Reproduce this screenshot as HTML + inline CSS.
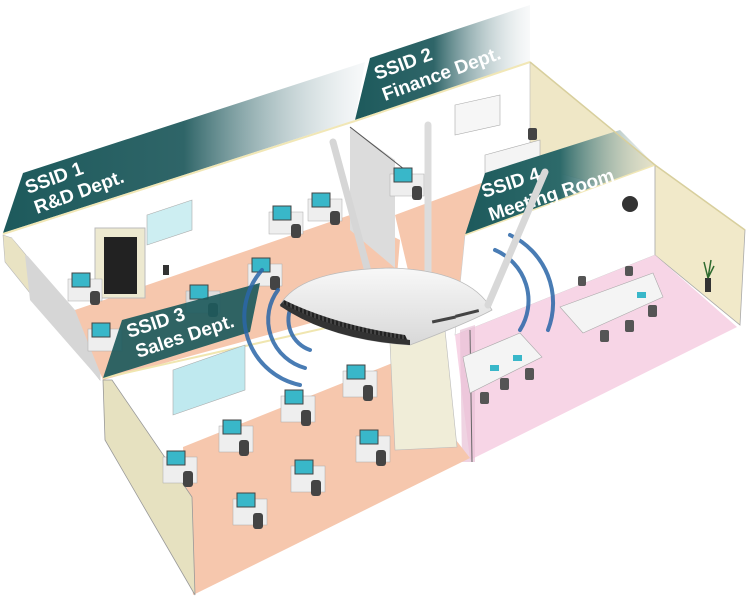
<!DOCTYPE html>
<html><head><meta charset="utf-8"><style>
html,body{margin:0;padding:0;background:#fff;}
svg{display:block;}
text{font-family:"Liberation Sans",sans-serif;font-weight:bold;fill:#fff;}
</style></head><body>
<svg width="750" height="600" viewBox="0 0 750 600" xmlns="http://www.w3.org/2000/svg">
<defs>
<linearGradient id="b1" x1="0" y1="0" x2="1" y2="0">
<stop offset="0" stop-color="#1d5a5c"/><stop offset="0.5" stop-color="#2f6568"/><stop offset="1" stop-color="#e6ebee" stop-opacity="0.3"/></linearGradient>
<linearGradient id="b2" x1="0" y1="0" x2="1" y2="0">
<stop offset="0" stop-color="#1d5a5c"/><stop offset="0.45" stop-color="#2f6568"/><stop offset="1" stop-color="#dde3e6" stop-opacity="0.2"/></linearGradient>
<linearGradient id="b3" x1="0" y1="0" x2="1" y2="0">
<stop offset="0" stop-color="#1d5a5c"/><stop offset="0.5" stop-color="#2d6a6a"/><stop offset="1" stop-color="#cfd7d0" stop-opacity="0.3"/></linearGradient>
<linearGradient id="rt" x1="0" y1="0" x2="0" y2="1">
<stop offset="0" stop-color="#f8f8f8"/><stop offset="1" stop-color="#d8d8d8"/></linearGradient>
<pattern id="gr" width="4" height="4" patternUnits="userSpaceOnUse"><rect width="4" height="4" fill="#444"/><rect width="2" height="4" fill="#222"/></pattern>
</defs>

<polygon points="3,235 12,238 100,345 100,380 5,262" fill="#e9e3c3" stroke="#bbb" stroke-width="0.6"/>
<polygon points="25,255 45,262 100,340 100,380 30,300" fill="#d6d6d6"/>
<polygon points="12,238 355,122 350,215 75,310" fill="#fff"/>
<polygon points="75,310 350,215 400,240 395,300 103,380" fill="#f6c7ad"/>
<polygon points="355,122 530,62 530,165 360,215" fill="#fff"/>
<polygon points="395,215 530,165 540,190 470,235 470,300 415,300" fill="#f6c7ad"/>
<polygon points="350,127 395,160 395,268 350,230" fill="#dcdcdc"/>
<line x1="350" y1="127" x2="418" y2="180" stroke="#555" stroke-width="1"/>
<polygon points="530,62 655,165 655,200 530,165" fill="#efe7c6" stroke="#bbb" stroke-width="0.6"/>
<polygon points="465,235 655,165 655,255 455,335" fill="#fff" stroke="#ccc" stroke-width="0.6"/>
<polygon points="655,165 745,230 740,325 655,255" fill="#f1e9c9" stroke="#aaa" stroke-width="0.8"/>
<polygon points="455,335 655,255 737,327 470,460" fill="#f7d5e6"/>
<polygon points="460,330 475,325 475,462 462,462" fill="#e8c0d6" opacity="0.7"/>
<line x1="470" y1="330" x2="472" y2="462" stroke="#666" stroke-width="1"/>
<polygon points="560,307 653,273 663,297 583,333" fill="#f4f4f4" stroke="#aaa" stroke-width="0.6"/>
<polygon points="463,357 520,333 542,357 470,393" fill="#f4f4f4" stroke="#aaa" stroke-width="0.6"/>
<g fill="#555"><rect x="578" y="276" width="8" height="10" rx="2"/><rect x="625" y="266" width="8" height="10" rx="2"/><rect x="600" y="330" width="9" height="12" rx="2"/><rect x="625" y="320" width="9" height="12" rx="2"/><rect x="648" y="305" width="9" height="12" rx="2"/><rect x="480" y="392" width="9" height="12" rx="2"/><rect x="500" y="378" width="9" height="12" rx="2"/><rect x="525" y="368" width="9" height="12" rx="2"/></g>
<g fill="#39b7c9"><rect x="637" y="292" width="9" height="6"/><rect x="490" y="365" width="9" height="6"/><rect x="513" y="355" width="9" height="6"/></g>
<rect x="705" y="278" width="6" height="14" fill="#333"/><path d="M708 278 l-4 -16 M708 278 l3 -18 M708 278 l6 -12" stroke="#2f6b2f" stroke-width="1.5"/>
<circle cx="630" cy="204" r="8" fill="#333"/>

<polygon points="112,380 450,300 395,362 183,447" fill="#fff"/>
<polygon points="183,447 395,362 470,458 193,595" fill="#f6c7ad"/>
<polygon points="103,380 112,380 192,497 195,595 105,440" fill="#e6e1c0" stroke="#999" stroke-width="0.8"/>
<polygon points="390,343 445,330 457,447 395,450" fill="#f0edd8" stroke="#bbb" stroke-width="0.6"/>
<line x1="103" y1="378" x2="450" y2="300" stroke="#f0e6b0" stroke-width="2"/>
<polygon points="173,370 245,345 245,390 173,415" fill="#bfe9ef" stroke="#aaa" stroke-width="0.6"/>
<polygon points="147,215 192,200 192,230 147,245" fill="#cdeef2" stroke="#aaa" stroke-width="0.6"/>
<polygon points="455,105 500,95 500,125 455,135" fill="#f6f6f6" stroke="#aaa" stroke-width="0.6"/>
<rect x="95" y="228" width="50" height="70" fill="#ede9d0" stroke="#bbb"/>
<rect x="104" y="237" width="33" height="57" fill="#222"/>
<rect x="163" y="265" width="6" height="10" fill="#333"/>
<g>
<g transform="translate(177,463)"><rect x="-14" y="-6" width="34" height="26" fill="#eee" stroke="#aaa" stroke-width="0.5"/><rect x="-10" y="-12" width="18" height="14" fill="#39b7c9" stroke="#444"/><rect x="6" y="8" width="10" height="16" rx="3" fill="#444"/></g>
<g transform="translate(233,432)"><rect x="-14" y="-6" width="34" height="26" fill="#eee" stroke="#aaa" stroke-width="0.5"/><rect x="-10" y="-12" width="18" height="14" fill="#39b7c9" stroke="#444"/><rect x="6" y="8" width="10" height="16" rx="3" fill="#444"/></g>
<g transform="translate(295,402)"><rect x="-14" y="-6" width="34" height="26" fill="#eee" stroke="#aaa" stroke-width="0.5"/><rect x="-10" y="-12" width="18" height="14" fill="#39b7c9" stroke="#444"/><rect x="6" y="8" width="10" height="16" rx="3" fill="#444"/></g>
<g transform="translate(357,377)"><rect x="-14" y="-6" width="34" height="26" fill="#eee" stroke="#aaa" stroke-width="0.5"/><rect x="-10" y="-12" width="18" height="14" fill="#39b7c9" stroke="#444"/><rect x="6" y="8" width="10" height="16" rx="3" fill="#444"/></g>
<g transform="translate(247,505)"><rect x="-14" y="-6" width="34" height="26" fill="#eee" stroke="#aaa" stroke-width="0.5"/><rect x="-10" y="-12" width="18" height="14" fill="#39b7c9" stroke="#444"/><rect x="6" y="8" width="10" height="16" rx="3" fill="#444"/></g>
<g transform="translate(305,472)"><rect x="-14" y="-6" width="34" height="26" fill="#eee" stroke="#aaa" stroke-width="0.5"/><rect x="-10" y="-12" width="18" height="14" fill="#39b7c9" stroke="#444"/><rect x="6" y="8" width="10" height="16" rx="3" fill="#444"/></g>
<g transform="translate(370,442)"><rect x="-14" y="-6" width="34" height="26" fill="#eee" stroke="#aaa" stroke-width="0.5"/><rect x="-10" y="-12" width="18" height="14" fill="#39b7c9" stroke="#444"/><rect x="6" y="8" width="10" height="16" rx="3" fill="#444"/></g>
<g transform="translate(82,285)"><rect x="-14" y="-6" width="34" height="22" fill="#eee" stroke="#aaa" stroke-width="0.5"/><rect x="-10" y="-12" width="18" height="14" fill="#39b7c9" stroke="#444"/><rect x="8" y="6" width="10" height="14" rx="3" fill="#444"/></g>
<g transform="translate(102,335)"><rect x="-14" y="-6" width="34" height="22" fill="#eee" stroke="#aaa" stroke-width="0.5"/><rect x="-10" y="-12" width="18" height="14" fill="#39b7c9" stroke="#444"/></g>
<g transform="translate(200,297)"><rect x="-14" y="-6" width="34" height="22" fill="#ddd" stroke="#aaa" stroke-width="0.5"/><rect x="-10" y="-12" width="18" height="14" fill="#39b7c9" stroke="#444"/><rect x="8" y="6" width="10" height="14" rx="3" fill="#444"/></g>
<g transform="translate(262,270)"><rect x="-14" y="-6" width="34" height="22" fill="#eee" stroke="#aaa" stroke-width="0.5"/><rect x="-10" y="-12" width="18" height="14" fill="#39b7c9" stroke="#444"/><rect x="8" y="6" width="10" height="14" rx="3" fill="#444"/></g>
<g transform="translate(283,218)"><rect x="-14" y="-6" width="34" height="22" fill="#eee" stroke="#aaa" stroke-width="0.5"/><rect x="-10" y="-12" width="18" height="14" fill="#39b7c9" stroke="#444"/><rect x="8" y="6" width="10" height="14" rx="3" fill="#444"/></g>
<g transform="translate(322,205)"><rect x="-14" y="-6" width="34" height="22" fill="#eee" stroke="#aaa" stroke-width="0.5"/><rect x="-10" y="-12" width="18" height="14" fill="#39b7c9" stroke="#444"/><rect x="8" y="6" width="10" height="14" rx="3" fill="#444"/></g>
<g transform="translate(404,180)"><rect x="-14" y="-6" width="34" height="22" fill="#eee" stroke="#aaa" stroke-width="0.5"/><rect x="-10" y="-12" width="18" height="14" fill="#39b7c9" stroke="#444"/><rect x="8" y="6" width="10" height="14" rx="3" fill="#444"/></g>
</g>
<polygon points="485,155 540,140 540,160 485,175" fill="#f4f4f4" stroke="#aaa" stroke-width="0.6"/>
<rect x="528" y="128" width="9" height="12" rx="2" fill="#444"/>

<polygon points="3,233 23,173 365,62 355,120" fill="url(#b1)"/>
<line x1="3" y1="234" x2="355" y2="121" stroke="#f1e7b6" stroke-width="2"/>
<polygon points="355,120 370,58 530,5 530,62" fill="url(#b2)"/>
<line x1="355" y1="121" x2="530" y2="62" stroke="#f1e7b6" stroke-width="2"/>
<polygon points="103,378 122,320 260,283 250,332" fill="#1d5a5c" opacity="0.92"/>
<polygon points="465,235 485,173 620,130 655,165" fill="url(#b3)"/>
<line x1="465" y1="235" x2="655" y2="165" stroke="#f1e7b6" stroke-width="1.5"/>
<line x1="530" y1="62" x2="655" y2="165" stroke="#d8cf9d" stroke-width="1.5"/>
<line x1="655" y1="165" x2="745" y2="230" stroke="#d8cf9d" stroke-width="1.5"/>

<text transform="translate(28,194) rotate(-20)" font-size="19">SSID 1</text>
<text transform="translate(37,214) rotate(-20)" font-size="19">R&amp;D Dept.</text>
<text transform="translate(377,80) rotate(-20)" font-size="19">SSID 2</text>
<text transform="translate(385,101) rotate(-20)" font-size="19">Finance Dept.</text>
<text transform="translate(129,338) rotate(-18)" font-size="19">SSID 3</text>
<text transform="translate(138,358) rotate(-18)" font-size="19">Sales  Dept.</text>
<text transform="translate(484,198) rotate(-18)" font-size="19">SSID 4</text>
<text transform="translate(491,221) rotate(-18)" font-size="19">Meeting Room</text>

<g fill="none" stroke="#2a66a8" stroke-width="4" stroke-linecap="round" opacity="0.85">
<path d="M262 270 A70 70 0 0 0 300 385"/>
<path d="M278 290 A50 50 0 0 0 305 368"/>
<path d="M292 305 A32 32 0 0 0 310 350"/>
<path d="M495 250 A55 55 0 0 1 520 330"/>
<path d="M510 235 A75 75 0 0 1 548 330"/>
</g>

<line x1="333" y1="142" x2="373" y2="290" stroke="#d6d6d6" stroke-width="7" stroke-linecap="round"/>
<line x1="428" y1="125" x2="428" y2="285" stroke="#dcdcdc" stroke-width="7" stroke-linecap="round"/>
<path d="M280 305 Q300 270 390 268 Q470 270 492 310 Q470 322 410 345 Q330 340 280 305 Z" fill="url(#rt)" stroke="#bbb" stroke-width="0.8"/>
<path d="M280 305 Q330 335 410 345 L405 335 Q335 325 284 300 Z" fill="url(#gr)"/>
<path d="M282 303 Q330 330 410 340 L410 345 Q330 340 280 306 Z" fill="#333"/>
<rect x="432" y="318" width="24" height="3" fill="#444" transform="rotate(-12 444 320)"/>
<rect x="455" y="312" width="24" height="3" fill="#444" transform="rotate(-14 467 313)"/>
<line x1="545" y1="172" x2="488" y2="305" stroke="#d8d8d8" stroke-width="7" stroke-linecap="round"/>
</svg>
</body></html>
